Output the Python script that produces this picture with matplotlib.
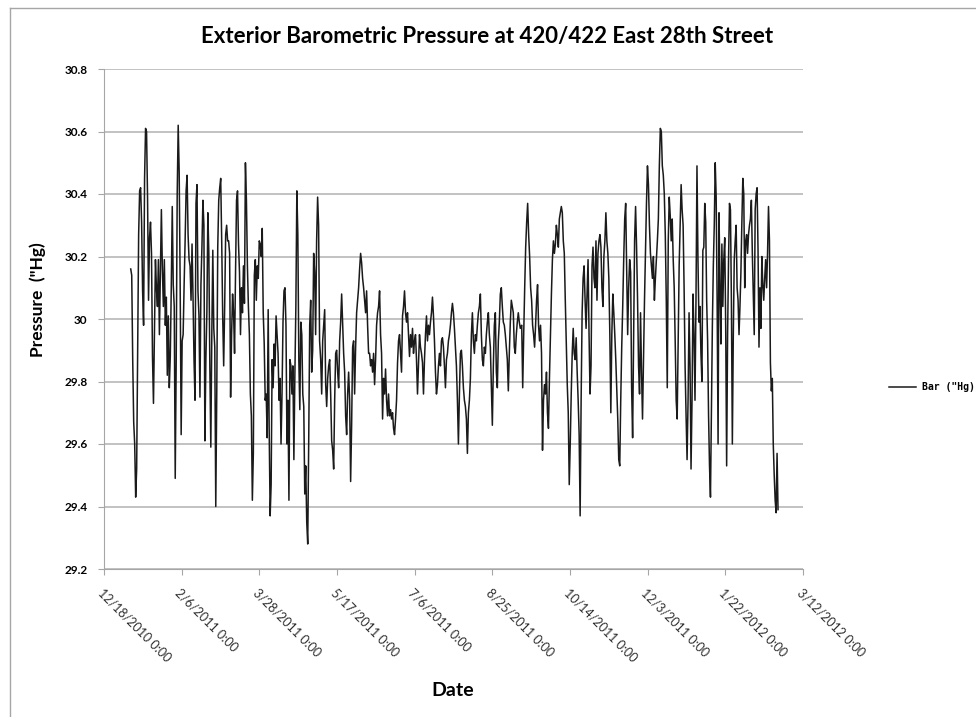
import pandas as pd
import matplotlib.pyplot as plt
from matplotlib.lines import Line2D

# Pressure readings ("Hg), split into four stretches of time
seg1_start, seg1_end = "2011-01-04 05:00", "2011-05-05 19:00"
seg1 = [30.16, 30.14, 29.87, 29.67, 29.60, 29.43, 29.52, 29.91, 30.27, 30.41, 30.42, 30.31,
        30.09, 29.98, 30.45, 30.61, 30.60, 30.39, 30.06, 30.26, 30.31, 30.21, 29.88, 29.73,
        29.95, 30.19, 30.10, 30.04, 30.19, 29.95, 30.15, 30.35, 30.16, 30.04, 30.19, 29.98,
        30.07, 29.82, 30.01, 29.78, 29.88, 30.10, 30.36, 30.11, 30.04, 29.49, 29.87, 30.40,
        30.62, 30.47, 30.11, 29.63, 29.93, 29.95, 30.11, 30.25, 30.41, 30.46, 30.27, 30.19,
        30.17, 30.06, 30.24, 30.07, 29.87, 29.74, 30.37, 30.43, 30.09, 30.01, 29.75, 30.11,
        30.23, 30.38, 30.30, 29.61, 29.87, 30.02, 30.34, 30.21, 29.85, 29.59, 29.95, 30.22,
        29.97, 29.91, 29.40, 29.76, 30.23, 30.38, 30.42, 30.45, 30.25, 30.01, 29.85, 30.04,
        30.27, 30.30, 30.25, 30.25, 30.21, 29.75, 29.95, 30.08, 30.02, 29.89, 30.15, 30.38,
        30.41, 30.24, 30.15, 29.95, 30.10, 30.02, 30.17, 30.05, 30.50, 30.38, 30.17, 30.04,
        29.95, 29.76, 29.69, 29.42, 29.57, 30.14, 30.19, 30.06, 30.17, 30.13, 30.25, 30.24,
        30.20, 30.29, 30.02, 29.92, 29.74, 29.76, 29.62, 30.03, 29.65, 29.37, 29.47, 29.87,
        29.78, 29.92, 29.85, 30.01, 29.95, 29.89, 29.74, 29.81, 29.60, 29.76, 29.99, 30.09,
        30.10, 29.98, 29.60, 29.74, 29.42, 29.87, 29.85, 29.76, 29.85, 29.55, 29.82, 30.04,
        30.41, 30.27, 29.87, 29.71, 29.99, 29.95, 29.76, 29.72, 29.44, 29.53, 29.35, 29.28,
        29.61, 29.98, 30.06, 29.83, 29.90, 30.21, 30.15, 29.95, 30.25, 30.39, 30.30, 29.93]

seg2_start, seg2_end = "2011-05-06 12:00", "2011-09-12 00:00"
seg2 = [29.87, 29.76, 29.93, 29.98, 30.03, 29.79, 29.72, 29.81, 29.85, 29.87, 29.76, 29.61,
        29.58, 29.52, 29.74, 29.89, 29.90, 29.83, 29.78, 29.93, 29.99, 30.08, 29.98, 29.89,
        29.83, 29.69, 29.63, 29.76, 29.83, 29.74, 29.48, 29.66, 29.91, 29.93, 29.76, 29.91,
        30.02, 30.06, 30.10, 30.16, 30.21, 30.18, 30.13, 30.10, 30.06, 30.02, 30.09, 29.98,
        29.89, 29.89, 29.85, 29.87, 29.83, 29.89, 29.79, 29.87, 29.98, 30.02, 30.04, 30.09,
        29.95, 29.89, 29.68, 29.81, 29.76, 29.84, 29.74, 29.69, 29.76, 29.69, 29.71, 29.68,
        29.70, 29.65, 29.63, 29.68, 29.74, 29.86, 29.93, 29.95, 29.89, 29.83, 30.01, 30.04,
        30.09, 30.02, 29.99, 30.02, 29.95, 29.88, 29.95, 29.91, 29.97, 29.89, 29.93, 29.95,
        29.87, 29.76, 29.85, 29.95, 29.91, 29.89, 29.86, 29.76, 29.87, 29.95, 30.01, 29.93,
        29.98, 29.95, 29.99, 30.02, 30.07, 30.01, 29.93, 29.83, 29.76, 29.79, 29.85, 29.89,
        29.85, 29.93, 29.94, 29.91, 29.85, 29.78, 29.87, 29.89, 29.93, 29.95, 29.98, 30.02,
        30.05, 30.02, 29.97, 29.91, 29.85, 29.74, 29.60, 29.76, 29.89, 29.90, 29.85, 29.78,
        29.74, 29.72, 29.68, 29.57, 29.70, 29.74, 29.81, 29.95, 30.02, 29.93, 29.89, 29.95,
        29.93, 29.98, 30.02, 30.04, 30.08, 29.95, 29.87, 29.85, 29.91, 29.89, 29.95, 29.99,
        30.02, 29.95, 29.91, 29.78, 29.66, 29.85, 29.98, 30.02, 29.83, 29.78, 29.93, 29.99,
        30.08, 30.10, 30.04, 29.99, 29.98, 29.95, 29.91, 29.87, 29.77, 29.89, 29.99, 30.06,
        30.04, 30.02, 29.91, 29.89, 29.95, 29.99, 30.02, 29.99, 29.97]

seg3_start, seg3_end = "2011-09-12 22:00", "2012-01-06 07:00"
seg3 = [29.98, 29.78, 29.95, 30.10, 30.23, 30.31, 30.37, 30.27, 30.20, 30.10, 30.06, 29.98,
        29.95, 29.91, 29.98, 30.06, 30.11, 29.98, 29.93, 29.98, 29.89, 29.58, 29.74, 29.79,
        29.76, 29.83, 29.70, 29.65, 29.81, 29.95, 30.08, 30.19, 30.25, 30.21, 30.24, 30.30,
        30.27, 30.23, 30.32, 30.34, 30.36, 30.34, 30.25, 30.21, 30.06, 29.93, 29.79, 29.70,
        29.47, 29.60, 29.76, 29.89, 29.97, 29.89, 29.87, 29.94, 29.83, 29.74, 29.63, 29.37,
        29.74, 30.02, 30.13, 30.17, 30.06, 29.97, 30.08, 30.19, 29.95, 29.76, 29.85, 30.17,
        30.23, 30.13, 30.10, 30.25, 30.06, 30.21, 30.25, 30.27, 30.23, 30.10, 30.04, 30.20,
        30.25, 30.34, 30.25, 30.21, 30.13, 29.95, 29.70, 29.95, 30.08, 30.02, 29.95, 29.87,
        29.78, 29.68, 29.55, 29.53, 29.74, 29.91, 30.04, 30.19, 30.32, 30.37, 30.17, 29.95,
        30.10, 30.19, 30.15, 29.78, 29.62, 29.95, 30.25, 30.36, 30.23, 30.06, 29.85, 29.76,
        30.02, 29.83, 29.68, 29.87, 30.06, 30.21, 30.37, 30.49, 30.43, 30.30, 30.21, 30.17,
        30.13, 30.20, 30.06, 30.13, 30.19, 30.25, 30.32, 30.49, 30.61, 30.60, 30.49, 30.46,
        30.40, 30.27, 30.06, 29.78, 30.25, 30.39, 30.33, 30.25, 30.32, 30.19, 30.10, 29.93,
        29.74, 29.68, 29.93, 30.17, 30.30, 30.43, 30.35, 30.30, 30.10, 29.85, 29.69, 29.55,
        29.74, 30.02, 29.85, 29.52, 29.74, 30.08, 29.95, 29.74, 30.06, 30.49, 30.19, 29.99,
        30.04, 29.89]

seg4_start, seg4_end = "2012-01-06 22:00", "2012-02-24 22:00"
seg4 = [29.80, 30.22, 30.23, 30.37, 30.31, 30.06, 29.93, 29.69, 29.53, 29.43, 29.69, 29.98,
        30.17, 30.30, 30.50, 30.39, 30.06, 29.60, 30.34, 30.10, 29.92, 30.24, 30.04, 30.19,
        30.26, 29.98, 29.53, 29.95, 30.19, 30.37, 30.35, 30.06, 29.60, 29.95, 30.19, 30.25,
        30.30, 30.10, 30.06, 29.95, 30.04, 30.15, 30.31, 30.45, 30.40, 30.10, 30.25, 30.27,
        30.21, 30.27, 30.30, 30.32, 30.38, 30.21, 30.08, 29.95, 30.35, 30.40, 30.42, 30.22,
        29.91, 30.10, 29.97, 30.20, 30.11, 30.06, 30.13, 30.19, 30.10, 30.21, 30.36, 30.25,
        29.86, 29.77, 29.81, 29.60, 29.50, 29.42, 29.38, 29.57, 29.39]

x_tick_labels = ["12/18/2010 0:00", "2/6/2011 0:00", "3/28/2011 0:00", "5/17/2011 0:00",
                 "7/6/2011 0:00", "8/25/2011 0:00", "10/14/2011 0:00", "12/3/2011 0:00",
                 "1/22/2012 0:00", "3/12/2012 0:00"]
y_ticks = [29.2, 29.4, 29.6, 29.8, 30.0, 30.2, 30.4, 30.6, 30.8]

segments = [(seg1_start, seg1_end, seg1), (seg2_start, seg2_end, seg2),
            (seg3_start, seg3_end, seg3), (seg4_start, seg4_end, seg4)]
times = []
pressure = []
for start, end, vals in segments:
    times.extend(pd.date_range(start, end, periods=len(vals)))
    pressure.extend(vals)

tick_dates = pd.to_datetime([t.split(" ")[0] for t in x_tick_labels], format="%m/%d/%Y")

plt.rcParams['font.family'] = ['Lato', 'DejaVu Sans']

fig = plt.figure(figsize=(9.76, 7.17), dpi=100)
ax = fig.add_axes([104 / 976, 1 - 569 / 717, 699 / 976, 500 / 717])

ax.plot(times, pressure, color='#1a1a1a', lw=1.1, label='Bar ("Hg)')

ax.set_xlim(tick_dates[0], tick_dates[-1])
ax.set_ylim(y_ticks[0], y_ticks[-1])
ax.set_yticks(y_ticks)
ax.set_yticklabels([f"{v:g}" for v in y_ticks], fontsize=8.5, fontweight='bold')
ax.set_xticks(tick_dates)
ax.set_xticklabels(x_tick_labels, rotation=-45, ha='left', va='top',
                   rotation_mode='anchor', fontsize=9, color='#303030')

ax.grid(axis='y', color='#bdbdbd', lw=1.3)
ax.set_axisbelow(True)
for side in ['top', 'right']:
    ax.spines[side].set_visible(False)
for side in ['left', 'bottom']:
    ax.spines[side].set_color('#a6a6a6')
ax.tick_params(axis='y', length=4, color='#a6a6a6', pad=8)
ax.tick_params(axis='x', length=4, color='#a6a6a6', pad=9)

fig.text(487 / 976, 1 - 37 / 717, 'Exterior Barometric Pressure at 420/422 East 28th Street',
         ha='center', va='center', fontsize=16, fontweight='bold')
fig.text(38 / 976, 1 - 300 / 717, 'Pressure  ("Hg)', rotation=90, ha='center', va='center',
         fontsize=12.5, fontweight='bold')
fig.text(453 / 976, 1 - 690 / 717, 'Date', ha='center', va='center',
         fontsize=14, fontweight='bold')

fig.legend(loc='center left', bbox_to_anchor=(889 / 976, 1 - 387 / 717), frameon=False,
           prop=dict(family='DejaVu Sans Mono', weight='bold', size=7),
           handlelength=2.8, handletextpad=0.6, borderpad=0, borderaxespad=0)

# chart border (only top and left edges fall inside the picture)
fig.add_artist(Line2D([10 / 976, 1], [1 - 8 / 717, 1 - 8 / 717], color='#a6a6a6', lw=1,
                      transform=fig.transFigure))
fig.add_artist(Line2D([10 / 976, 10 / 976], [0, 1 - 8 / 717], color='#a6a6a6', lw=1,
                      transform=fig.transFigure))

fig.savefig('out.png', dpi=100)
